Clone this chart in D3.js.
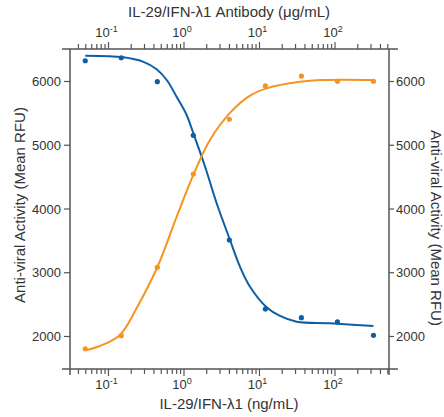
<!DOCTYPE html>
<html lang="en">
<head>
<meta charset="UTF-8">
<title>Anti-viral Activity</title>
<script src="https://d3js.org/d3.v7.min.js"></script>
<style>
    body { margin: 0; background: white; }
    svg { display: block; }
    text { font-family: "Liberation Sans", Arial, sans-serif; fill: #333; }
    .axis text { font-size: 13px; }
    .axis line { stroke: #555; stroke-width: 1.2px; }
    .frame { stroke: #555; stroke-width: 1.5px; }
    .title { font-size: 15px; }
</style>
</head>
<body>
<div id="container"></div>
<script>
// concentrations (ng/mL), 3-fold dilutions
const conc = [0.05, 0.15, 0.45, 1.35, 4.05, 12.15, 36.45, 109.35, 328];
// measured points
const blueVals = [6318, 6365, 5990, 5148, 3506, 2423, 2287, 2220, 2011];
const orangeVals = [1800, 2005, 3078, 4541, 5400, 5922, 6078, 5995, 5995];
// fitted curves
const blueFitX = [0.05, 0.16, 0.29, 0.44, 0.6, 0.81, 1.1, 1.35, 1.65, 2.03, 2.75, 4.13, 5.6, 7.6, 12.4, 19, 31.5, 87, 328];
const blueFitY = [6397, 6372, 6303, 6184, 6016, 5754, 5467, 5180, 4891, 4577, 4082, 3506, 3087, 2773, 2460, 2314, 2224, 2199, 2157];
const orangeFitX = [0.05, 0.078, 0.144, 0.24, 0.45, 0.813, 1.35, 2.24, 4.13, 7.6, 12.6, 34.9, 71, 328];
const orangeFitY = [1776, 1843, 2016, 2440, 3078, 3871, 4526, 5074, 5500, 5770, 5885, 5989, 6016, 6016];
// ticks
const xMajor = [0.1, 1, 10, 100];
const xExp = ["-1", "0", "1", "2"];
const yTicks = [2000, 3000, 4000, 5000, 6000];

const width = 444, height = 417;
const m = {left: 70, right: 389, top: 49, bottom: 369};
const blue = "#0d5fa5", orange = "#f7941d";

const svg = d3.select("#container").append("svg")
    .attr("width", width)
    .attr("height", height);

const x = d3.scaleLog().domain([0.0314, 527]).range([m.left, m.right]);
const y = d3.scaleLinear().domain([1482, 6502]).range([m.bottom, m.top]);

const xMinor = x.ticks().filter(d => !xMajor.some(v => Math.abs(v - d) < 1e-9));

//bottom + top log axes
function logAxis(axisFn, ypos, labelDy) {
    const gMinor = svg.append("g").attr("class", "axis")
        .attr("transform", `translate(0,${ypos})`)
        .call(axisFn(x).tickValues(xMinor).tickSize(5).tickFormat(""));
    gMinor.select(".domain").remove();
    const g = svg.append("g").attr("class", "axis")
        .attr("transform", `translate(0,${ypos})`)
        .call(axisFn(x).tickValues(xMajor).tickSize(7).tickFormat(""));
    g.select(".domain").remove();
    g.selectAll(".tick").append("text")
        .attr("y", labelDy)
        .attr("x", -2)
        .attr("text-anchor", "middle")
        .each(function(d, i) {
            const t = d3.select(this);
            t.append("tspan").text("10");
            t.append("tspan").text(xExp[i]).attr("dy", -5).attr("font-size", 9);
        });
}
logAxis(d3.axisBottom, m.bottom, 20);
logAxis(d3.axisTop, m.top, -12);

//left + right value axes
const fmt = d3.format("d");
const gl = svg.append("g").attr("class", "axis")
    .attr("transform", `translate(${m.left},0)`)
    .call(d3.axisLeft(y).tickValues(yTicks).tickFormat(fmt).tickSize(6).tickPadding(3));
gl.select(".domain").remove();
gl.selectAll("text").attr("dy", "0.35em");
const gr = svg.append("g").attr("class", "axis")
    .attr("transform", `translate(${m.right},0)`)
    .call(d3.axisRight(y).tickValues(yTicks).tickFormat(fmt).tickSize(5).tickPadding(2));
gr.select(".domain").remove();
gr.selectAll("text").attr("dy", "0.35em");

//frame lines (crossing at the corners)
svg.append("line").attr("class", "frame")
    .attr("x1", m.left - 8).attr("x2", m.right + 9).attr("y1", m.bottom).attr("y2", m.bottom);
svg.append("line").attr("class", "frame")
    .attr("x1", m.left - 8).attr("x2", m.right + 9).attr("y1", m.top).attr("y2", m.top);
svg.append("line").attr("class", "frame")
    .attr("x1", m.left).attr("x2", m.left).attr("y1", m.top).attr("y2", m.bottom + 6);
svg.append("line").attr("class", "frame")
    .attr("x1", m.right).attr("x2", m.right).attr("y1", m.top).attr("y2", m.bottom + 6);

//curves
const line = d3.line()
    .x(d => x(d[0]))
    .y(d => y(d[1]))
    .curve(d3.curveCatmullRom);

svg.append("path")
    .attr("d", line(d3.zip(blueFitX, blueFitY)))
    .attr("fill", "none").attr("stroke", blue).attr("stroke-width", 2);
svg.append("path")
    .attr("d", line(d3.zip(orangeFitX, orangeFitY)))
    .attr("fill", "none").attr("stroke", orange).attr("stroke-width", 2);

//points
svg.append("g").selectAll("circle")
    .data(d3.zip(conc, blueVals))
    .enter().append("circle")
    .attr("cx", d => x(d[0])).attr("cy", d => y(d[1]))
    .attr("r", 2.6).attr("fill", blue);
svg.append("g").selectAll("circle")
    .data(d3.zip(conc, orangeVals))
    .enter().append("circle")
    .attr("cx", d => x(d[0])).attr("cy", d => y(d[1]))
    .attr("r", 2.6).attr("fill", orange);

//titles
svg.append("text").attr("class", "title")
    .attr("x", 229).attr("y", 17).attr("text-anchor", "middle")
    .text("IL-29/IFN-λ1 Antibody (μg/mL)");
svg.append("text").attr("class", "title")
    .attr("x", 229).attr("y", 409).attr("text-anchor", "middle")
    .text("IL-29/IFN-λ1 (ng/mL)");
svg.append("text").attr("class", "title")
    .attr("transform", "translate(25,205) rotate(-90)")
    .attr("text-anchor", "middle")
    .text("Anti-viral Activity (Mean RFU)");
svg.append("text").attr("class", "title")
    .attr("transform", "translate(431,228) rotate(90)")
    .attr("text-anchor", "middle")
    .text("Anti-viral Activity (Mean RFU)");
</script>
</body>
</html>
